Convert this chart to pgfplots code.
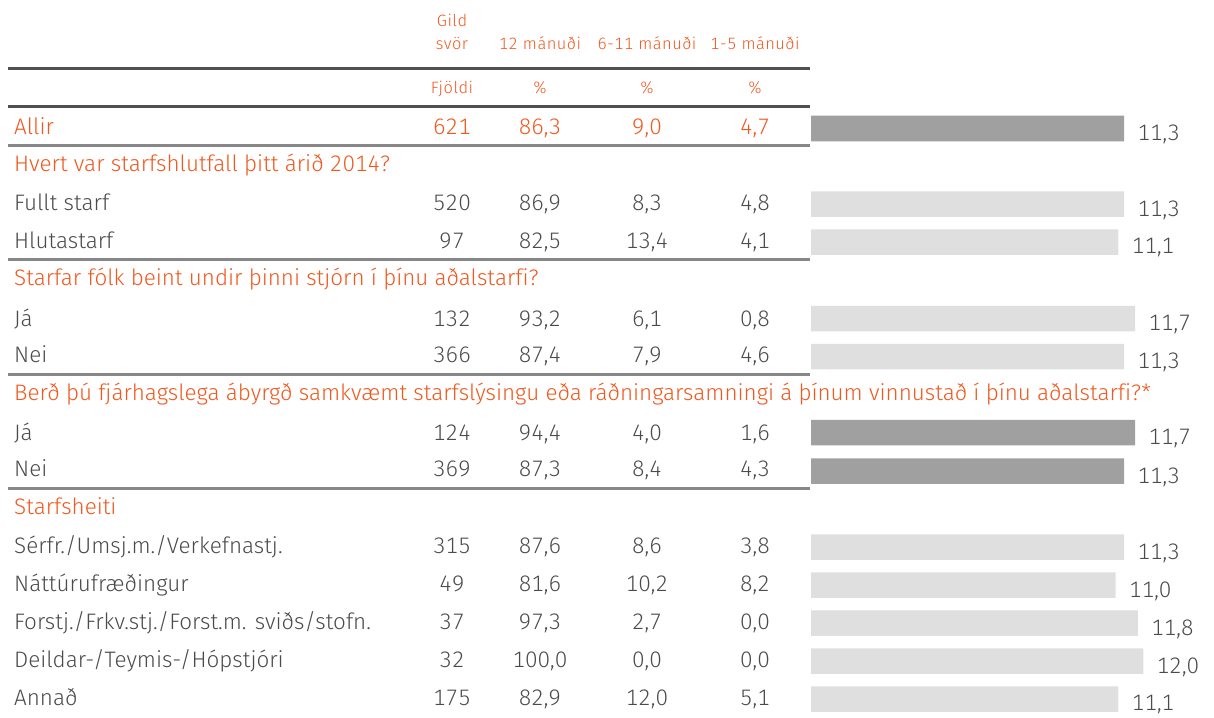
\documentclass[border=0pt]{standalone}
\usepackage{pgfplots}
\pgfplotsset{compat=1.18}
\usepackage{fontspec}
\setmainfont{Fira Sans Light}[Numbers=Monospaced, Ligatures=NoCommon]
\newfontfamily\hdfam{Fira Sans Light}[Numbers=Monospaced, LetterSpace=3]
\definecolor{orng}{RGB}{240,88,30}
\definecolor{txt}{RGB}{75,75,75}
\definecolor{darkbar}{RGB}{160,160,160}
\definecolor{lightbar}{RGB}{223,223,223}
\definecolor{dline}{RGB}{80,80,80}
\definecolor{gline}{RGB}{135,135,135}

\newcommand{\rowfont}{\fontsize{22.5}{26}\selectfont}
\newcommand{\headfont}{\hdfam\fontsize{16.5}{19}\selectfont}

% one table row: y of baseline, label, n, 12m, 6-11m, 1-5m
\newcommand{\trow}[7][txt]{%
  \node[anchor=base west, inner sep=0pt, text=#1, font=\rowfont] at (axis cs:14,#2) {#3};
  \node[anchor=base, text=#1, font=\rowfont] at (axis cs:452,#2) {#4};
  \node[anchor=base, text=#1, font=\rowfont] at (axis cs:540,#2) {#5};
  \node[anchor=base, text=#1, font=\rowfont] at (axis cs:647,#2) {#6};
  \node[anchor=base, text=#1, font=\rowfont] at (axis cs:755,#2) {#7};}
\newcommand{\sect}[2]{%
  \node[anchor=base west, inner sep=0pt, text=orng, font=\rowfont] at (axis cs:14,#1) {#2};}

\begin{document}
\begin{tikzpicture}
\pgfplotsset{tab/.style={scale only axis, width=1214bp, height=713bp,
  at={(0,0)}, anchor=south west, ymin=0, ymax=713, y dir=reverse,
  hide axis, clip=false}}
\begin{axis}[tab, xmin=0, xmax=1214]
\path (axis cs:0,0) rectangle (axis cs:1214,713);
% header
\node[anchor=base, text=orng, font=\headfont] at (axis cs:452,27) {Gild};
\node[anchor=base, text=orng, font=\headfont] at (axis cs:452,50) {svör};
\node[anchor=base, text=orng, font=\headfont] at (axis cs:540,50) {12 mánuði};
\node[anchor=base, text=orng, font=\headfont] at (axis cs:647,50) {6-11 mánuði};
\node[anchor=base, text=orng, font=\headfont] at (axis cs:755,50) {1-5 mánuði};
\node[anchor=base, text=orng, font=\headfont] at (axis cs:452,94) {Fjöldi};
\node[anchor=base, text=orng, font=\headfont] at (axis cs:540,94) {\%};
\node[anchor=base, text=orng, font=\headfont] at (axis cs:647,94) {\%};
\node[anchor=base, text=orng, font=\headfont] at (axis cs:755,94) {\%};
% rules
\draw[dline, line width=3bp] (axis cs:8,69) -- (axis cs:810,69);
\draw[dline, line width=3bp] (axis cs:8,107) -- (axis cs:810,107);
\draw[gline, line width=3bp] (axis cs:8,145) -- (axis cs:810,145);
\draw[gline, line width=3bp] (axis cs:8,259) -- (axis cs:810,259);
\draw[gline, line width=3bp] (axis cs:8,374) -- (axis cs:810,374);
\draw[gline, line width=3bp] (axis cs:8,488) -- (axis cs:810,488);
% rows
\trow[orng]{134}{Allir}{621}{86,3}{9,0}{4,7}
\sect{171}{Hvert var starfshlutfall þitt árið 2014?}
\trow{210}{Fullt starf}{520}{86,9}{8,3}{4,8}
\trow{248}{Hlutastarf}{97}{82,5}{13,4}{4,1}
\sect{285}{Starfar fólk beint undir þinni stjórn í þínu aðalstarfi?}
\trow{326}{Já}{132}{93,2}{6,1}{0,8}
\trow{362}{Nei}{366}{87,4}{7,9}{4,6}
\sect{400}{Berð þú fjárhagslega ábyrgð samkvæmt starfslýsingu eða ráðningarsamningi á þínum vinnustað í þínu aðalstarfi?*}
\trow{440}{Já}{124}{94,4}{4,0}{1,6}
\trow{476}{Nei}{369}{87,3}{8,4}{4,3}
\sect{514}{Starfsheiti}
\trow{553}{Sérfr./Umsj.m./Verkefnastj.}{315}{87,6}{8,6}{3,8}
\trow{591}{Náttúrufræðingur}{49}{81,6}{10,2}{8,2}
\trow{629}{Forstj./Frkv.stj./Forst.m. sviðs/stofn.}{37}{97,3}{2,7}{0,0}
\trow{667}{Deildar-/Teymis-/Hópstjóri}{32}{100,0}{0,0}{0,0}
\trow{705}{Annað}{175}{82,9}{12,0}{5,1}
\end{axis}
\begin{axis}[tab, xmin=-29.28, xmax=14.55, xbar, bar width=25.5,
  bar shift=0pt,
  nodes near coords, point meta=x,
  every node near coord/.append style={text=txt, font=\rowfont,
    anchor=west, xshift=10bp, yshift=-6bp},
  nodes near coords style={/pgf/number format/.cd, use comma, fixed,
    fixed zerofill, precision=1, assume math mode=true}]
\addplot[fill=darkbar, draw=none] coordinates {(11.3,128.5) (11.7,432.5)
  (11.3,471)};
\addplot[fill=lightbar, draw=none] coordinates {(11.3,204) (11.1,242)
  (11.7,318.5) (11.3,356.5) (11.3,547) (11.0,585) (11.8,623) (12.0,661)
  (11.1,699)};
\end{axis}
\end{tikzpicture}
\end{document}
